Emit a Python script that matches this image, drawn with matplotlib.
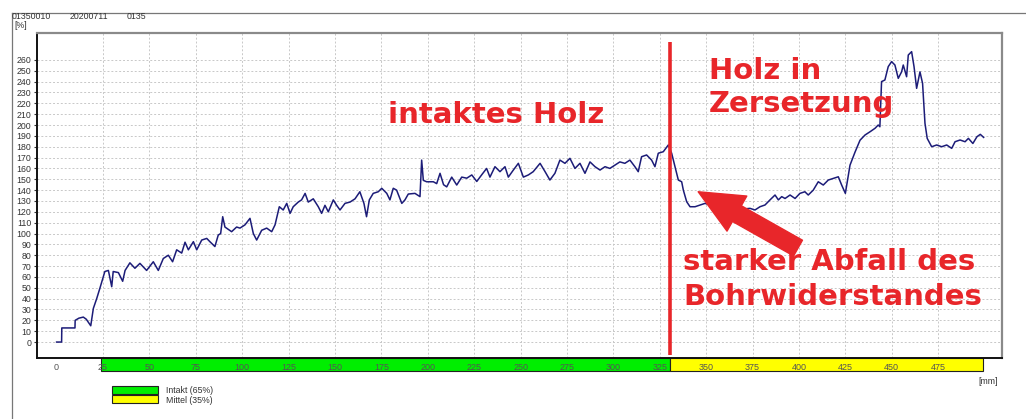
import matplotlib
matplotlib.use("Agg")
import matplotlib.pyplot as plt
from matplotlib.patches import Rectangle
from matplotlib.lines import Line2D
import matplotlib.transforms as mtransforms

# ---------------- data ----------------
depth_mm = [0, 2.7, 2.8, 9.9, 10.0, 12, 14.4, 16, 18.4, 19.8, 21.6, 23.4, 26, 27.9, 29.7, 30.5,
            33.3, 35.6, 36.9, 39.5, 42.2, 44.9, 48.5, 52.1, 54.8, 57.5, 60.2, 62.5, 64.7, 67.4,
            69.2, 71, 73.7, 75.5, 78.2, 80.9, 82.6, 85.3, 87.1, 88.4, 89.5, 90.7, 94.3, 97,
            98.8, 101.5, 104.2, 106, 107.8, 110.5, 113.2, 115.9, 117.7, 120, 122.1, 124, 125.8,
            127.5, 130.2, 132, 133.9, 135.6, 138.3, 141, 142.8, 144.6, 146.4, 149.1, 150.9,
            152.7, 155.4, 158.1, 160.8, 163.4, 165.6, 167, 168.5, 170.6, 173.3, 175.2, 177.9,
            179.6, 181.4, 183.2, 186, 187.7, 189.5, 193.1, 195.8, 196.7, 197.6, 199.4, 203,
            204.8, 206.6, 208.5, 210.2, 212.9, 215.6, 218.3, 221, 223.7, 226.4, 229, 231.7,
            233.5, 236.2, 238.9, 241.6, 243.4, 246.1, 248.8, 251.5, 254.2, 256.8, 260.5, 263.2,
            265.8, 268.5, 271.2, 273.9, 276.6, 279.3, 282, 284.7, 287.4, 290.1, 292.8, 295.5,
            298.1, 300.8, 303.5, 306.2, 308.9, 311.6, 313.4, 315.2, 317.9, 320.6, 322.4, 324.2,
            326.9, 329.6, 331.4, 333.2, 335, 336.8, 337.7, 339.5, 341.3, 344, 346.7, 349.4,
            352.1, 353.8, 356.5, 359.2, 362.8, 368.2, 373.6, 376.3, 379, 381.7, 384.4, 387.1,
            388.9, 390.7, 392.5, 395.2, 397.9, 400.5, 403.2, 405, 407.7, 410.4, 413.1, 415.8,
            418.5, 421.2, 423, 425, 427.5, 430.2, 432.9, 435.6, 438.3, 441, 442.7, 443.6, 444.5,
            446.3, 448.1, 449.9, 451.7, 453.5, 455.3, 456.2, 458, 458.9, 460.7, 462, 463.4,
            465.2, 466.6, 467.9, 469.1, 471.5, 474.2, 476.9, 479.6, 482.3, 484.1, 486.8, 489.5,
            491.3, 493.7, 495.9, 497.7, 499.5]
resistance_pct = [0, 0, 13, 13, 20, 22, 23, 21, 15, 31, 40, 50, 65, 66, 51, 65,
                  64, 56, 66, 73, 68, 72.5, 66, 74, 66, 77, 80, 74, 85, 82,
                  92, 85, 92.5, 85, 94, 95.5, 92.5, 88, 98.6, 100, 115.5, 106, 101.7, 106,
                  105, 108, 114, 100, 94, 103, 105, 101.7, 108, 124.7, 121.7, 127.8, 118.6,
                  124.7, 129, 131, 137, 129, 132, 124.7, 118.6, 126, 120, 131, 126,
                  121.7, 127.8, 129, 132, 138.5, 127.8, 115.5, 131, 137, 138.5, 141.7, 137,
                  131, 141.7, 140, 127.8, 131, 136.4, 137, 134, 167.7, 149, 147.7, 147.7,
                  146, 155.5, 145, 143, 152, 144.7, 152, 151, 154, 148, 154, 160,
                  152, 161.6, 157, 161.6, 152, 158.5, 164.7, 152, 154, 157, 164.7, 157,
                  149.3, 155.5, 167.7, 164.7, 169.3, 160, 164.7, 155.5, 166, 161.6, 158.5, 161.6,
                  160, 163, 166, 164.7, 167.7, 161.6, 157, 170.8, 172.4, 167.7, 161.6, 174,
                  175.4, 181.6, 174, 161.6, 149.3, 147.7, 140, 129.3, 124.7, 124.7, 126.3, 127.8,
                  126.3, 123.2, 121.7, 123.2, 122.3, 122.3, 123.2, 121.7, 124.7, 126.3, 131, 135.5,
                  131, 134, 132.3, 135.5, 132.3, 137, 138.5, 135.5, 140, 147.7, 144.7, 149.3,
                  150.8, 152.3, 144.7, 137, 163, 175, 186, 190.8, 193.8, 197, 200, 198.4, 240,
                  241.5, 253.8, 258.4, 255.3, 243, 249, 255.3, 244.5, 264.5, 267.6, 253.8, 233.8,
                  249, 238.4, 201.5, 187.7, 180, 181.6, 180, 181.6, 178.5, 184.6, 186.2, 184.6,
                  187.7, 183, 189.2, 191.4, 188.6]

x_ticks = list(range(0, 476, 25))
x_grid = list(range(25, 476, 25))
y_ticks = list(range(0, 261, 10))

intact_start_mm = 24
decay_start_mm = 330.5
profile_end_mm = 499
legend_labels = ["Intakt (65%)", "Mittel (35%)"]
header_parts = ["01350010", "20200711", "0135"]

RED = "#e8262a"
GREEN = "#00ee00"
YELLOW = "#ffff00"
W, H = 1026, 419

fig = plt.figure(figsize=(W / 100, H / 100), dpi=100)
fig.patch.set_facecolor("white")

def fx(px):
    return px / W

def fy(py):
    return 1 - py / H

ax = fig.add_axes([fx(37), fy(358), fx(1002) - fx(37), fy(33) - fy(358)])
ax.set_xlim(-10.56, 509.4)
ax.set_ylim(-14.7, 284.8)

# grid
for yv in y_ticks:
    ax.axhline(yv, color="#c8c8c8", lw=0.7, ls=(0, (2, 2)), zorder=0)
for xv in x_grid:
    ax.axvline(xv, color="#c8c8c8", lw=0.7, ls=(0, (2, 2)), zorder=0)

# curve
ax.plot(depth_mm, resistance_pct, color="#1c1c78", lw=1.1, zorder=3)

# spines
for s in ["top", "right"]:
    ax.spines[s].set_color("#8a8a8a")
    ax.spines[s].set_linewidth(1.6)
for s in ["left", "bottom"]:
    ax.spines[s].set_color("#111111")
    ax.spines[s].set_linewidth(1.4)

ax.set_yticks(y_ticks)
ax.set_yticklabels([str(v) for v in y_ticks])
ax.set_xticks(x_ticks)
ax.set_xticklabels([str(v) for v in x_ticks])
ax.tick_params(axis="y", length=2.5, pad=1.5, labelsize=6.3, colors="#333333",
               labelfontfamily="Liberation Sans")
ax.tick_params(axis="x", length=0, pad=3.5, labelsize=6.5, colors="#555555",
               labelfontfamily="Liberation Sans")

# quality bar below axis
trans = mtransforms.blended_transform_factory(ax.transData, ax.transAxes)
bar_h = 13 / 325
ax.add_patch(Rectangle((intact_start_mm, -bar_h), decay_start_mm - intact_start_mm, bar_h,
                       transform=trans, facecolor=GREEN, edgecolor="#222222", lw=0.8,
                       clip_on=False, zorder=1))
ax.add_patch(Rectangle((decay_start_mm, -bar_h), profile_end_mm - decay_start_mm, bar_h,
                       transform=trans, facecolor=YELLOW, edgecolor="#222222", lw=0.8,
                       clip_on=False, zorder=1))

# red divider line
ax.vlines(decay_start_mm, -12, 276.5, color=RED, lw=2.6, zorder=5, clip_on=False)

# red arrow
ax.annotate("", xy=(345.7, 138.5), xytext=(399.5, 86.6),
            arrowprops=dict(arrowstyle="simple,head_length=1.6,head_width=1.45,tail_width=0.65",
                            color=RED, mutation_scale=20, shrinkA=0, shrinkB=0),
            zorder=6)

# annotations
tk = dict(color=RED, fontsize=21, fontweight="bold", family="DejaVu Sans",
          va="baseline", ha="left")
fig.text(fx(388), fy(123), "intaktes Holz", **tk)
fig.text(fx(709), fy(79), "Holz in", **tk)
fig.text(fx(709), fy(112), "Zersetzung", **tk)
fig.text(fx(683), fy(270), "starker Abfall des", **tk)
fig.text(fx(683), fy(305), "Bohrwiderstandes", **tk)

# header texts
small = dict(fontsize=6.3, family="Liberation Sans", color="#333333", va="center", ha="left")
fig.text(fx(12), fy(16.5), header_parts[0], **small)
fig.text(fx(70), fy(16.5), header_parts[1], **small)
fig.text(fx(127), fy(16.5), header_parts[2], **small)
fig.text(fx(14), fy(25.5), "[%]", **small)
fig.text(fx(978), fy(381), "[mm]", **small)

# legend
fig.patches.append(Rectangle((fx(112), fy(394)), fx(158) - fx(112), fy(386) - fy(394),
                             transform=fig.transFigure, facecolor=GREEN, edgecolor="#222222",
                             lw=0.8))
fig.patches.append(Rectangle((fx(112), fy(403)), fx(158) - fx(112), fy(395) - fy(403),
                             transform=fig.transFigure, facecolor=YELLOW, edgecolor="#222222",
                             lw=0.8))
fig.text(fx(166), fy(390), legend_labels[0], **small)
fig.text(fx(166), fy(400), legend_labels[1], **small)

# outer frame lines
fig.lines.append(Line2D([fx(12), fx(1026)], [fy(13), fy(13)], transform=fig.transFigure,
                        color="#777777", lw=0.9))
fig.lines.append(Line2D([fx(12), fx(12)], [fy(13), fy(419)], transform=fig.transFigure,
                        color="#777777", lw=0.9))

fig.savefig("out.png", dpi=100)
